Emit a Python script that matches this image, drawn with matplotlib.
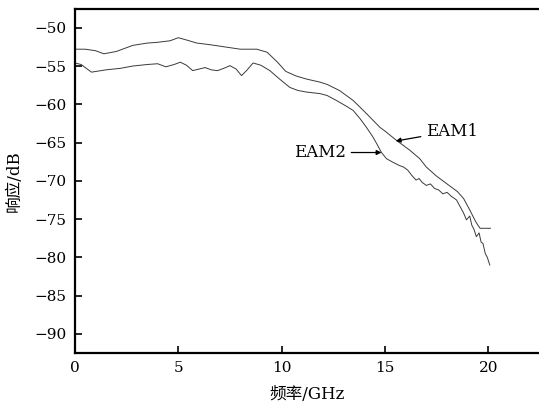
import matplotlib
matplotlib.use("Agg")
import matplotlib.pyplot as plt

plt.rcParams['font.family'] = ['DejaVu Serif', 'Noto Sans CJK SC']
plt.rcParams['axes.unicode_minus'] = True

# EAM1 response
x1 = [0, 0.5, 1.0, 1.4, 2.0, 2.8, 3.5, 4.0, 4.6, 5.0, 5.4, 5.9, 6.5, 7.0, 7.5, 8.0,
      8.5, 8.8, 9.3, 9.8, 10.2, 10.7, 11.2, 11.85, 12.2, 12.8, 13.46, 13.8, 14.1, 14.75,
      15.0, 15.55, 16.2, 16.68, 17.0, 17.5, 18.1, 18.5, 18.8, 19.1, 19.4, 19.6, 20.0, 20.1]
y1 = [-52.8, -52.8, -53.0, -53.4, -53.1, -52.3, -52.0, -51.9, -51.7, -51.3, -51.6, -52.0,
      -52.2, -52.4, -52.6, -52.8, -52.8, -52.8, -53.2, -54.5, -55.7, -56.3, -56.7, -57.1,
      -57.4, -58.2, -59.5, -60.4, -61.2, -63.0, -63.5, -64.7, -66.0, -67.1, -68.2, -69.4,
      -70.6, -71.4, -72.3, -73.8, -75.4, -76.2, -76.2, -76.2]

# EAM2 response
x2 = [0, 0.3, 0.8, 1.5, 2.2, 2.8, 3.5, 4.0, 4.4, 4.8, 5.1, 5.4, 5.7, 6.0, 6.3, 6.6, 6.9,
      7.2, 7.5, 7.8, 8.06, 8.3, 8.62, 9.0, 9.43, 9.9, 10.4, 10.8, 11.2, 11.85, 12.2, 12.65,
      13.1, 13.46, 13.8, 14.1, 14.4, 14.59, 14.83, 15.07, 15.4, 15.7, 15.9, 16.1, 16.3, 16.5,
      16.65, 16.8, 17.0, 17.2, 17.4, 17.6, 17.8, 18.0, 18.2, 18.46, 18.6, 18.8, 18.94, 19.1,
      19.2, 19.3, 19.42, 19.55, 19.65, 19.74, 19.85, 19.95, 20.07]
y2 = [-54.6, -54.8, -55.8, -55.5, -55.3, -55.0, -54.8, -54.7, -55.1, -54.8, -54.5, -54.9,
      -55.6, -55.4, -55.2, -55.5, -55.6, -55.3, -54.95, -55.4, -56.25, -55.6, -54.6, -54.9,
      -55.6, -56.7, -57.8, -58.2, -58.4, -58.6, -58.85, -59.5, -60.2, -60.8, -61.9, -63.0,
      -64.2, -65.1, -66.3, -67.1, -67.6, -68.0, -68.2, -68.6, -69.3, -69.9, -69.7, -70.2,
      -70.6, -70.4, -71.0, -71.2, -71.7, -71.5, -72.0, -72.5, -73.2, -74.2, -75.1, -74.6,
      -75.8, -76.3, -77.3, -76.8, -78.0, -78.2, -79.5, -80.0, -81.0]

xticks = [0, 5, 10, 15, 20]
yticks = [-90, -85, -80, -75, -70, -65, -60, -55, -50]

fig = plt.figure(figsize=(5.39, 4.11), dpi=100)
ax = fig.add_axes([0.139, 0.141, 0.861, 0.838])

ax.plot(x1, y1, color='#3a3a3a', lw=0.7)
ax.plot(x2, y2, color='#3a3a3a', lw=0.7)

ax.set_xlim(0, 22.45)
ax.set_ylim(-92.5, -47.5)
ax.set_xticks(xticks)
ax.set_yticks(yticks)
ax.tick_params(direction='in', length=5, width=1.2, labelsize=11, pad=6)
for s in ['left', 'bottom', 'top']:
    ax.spines[s].set_linewidth(1.6)
ax.spines['right'].set_visible(False)

ax.set_xlabel('频率/GHz', fontsize=12, labelpad=8)
ax.set_ylabel('响应/dB', fontsize=12, labelpad=8)

ax.annotate('EAM1', xy=(15.52, -64.8), xytext=(17.0, -63.5), fontsize=12,
            va='center', ha='left',
            arrowprops=dict(arrowstyle='-|>', color='black', lw=0.9,
                            mutation_scale=7, shrinkA=2, shrinkB=0))
ax.annotate('EAM2', xy=(14.83, -66.3), xytext=(13.1, -66.3), fontsize=12,
            va='center', ha='right',
            arrowprops=dict(arrowstyle='-|>', color='black', lw=0.9,
                            mutation_scale=7, shrinkA=2, shrinkB=0))

fig.savefig('out.png', dpi=100)
